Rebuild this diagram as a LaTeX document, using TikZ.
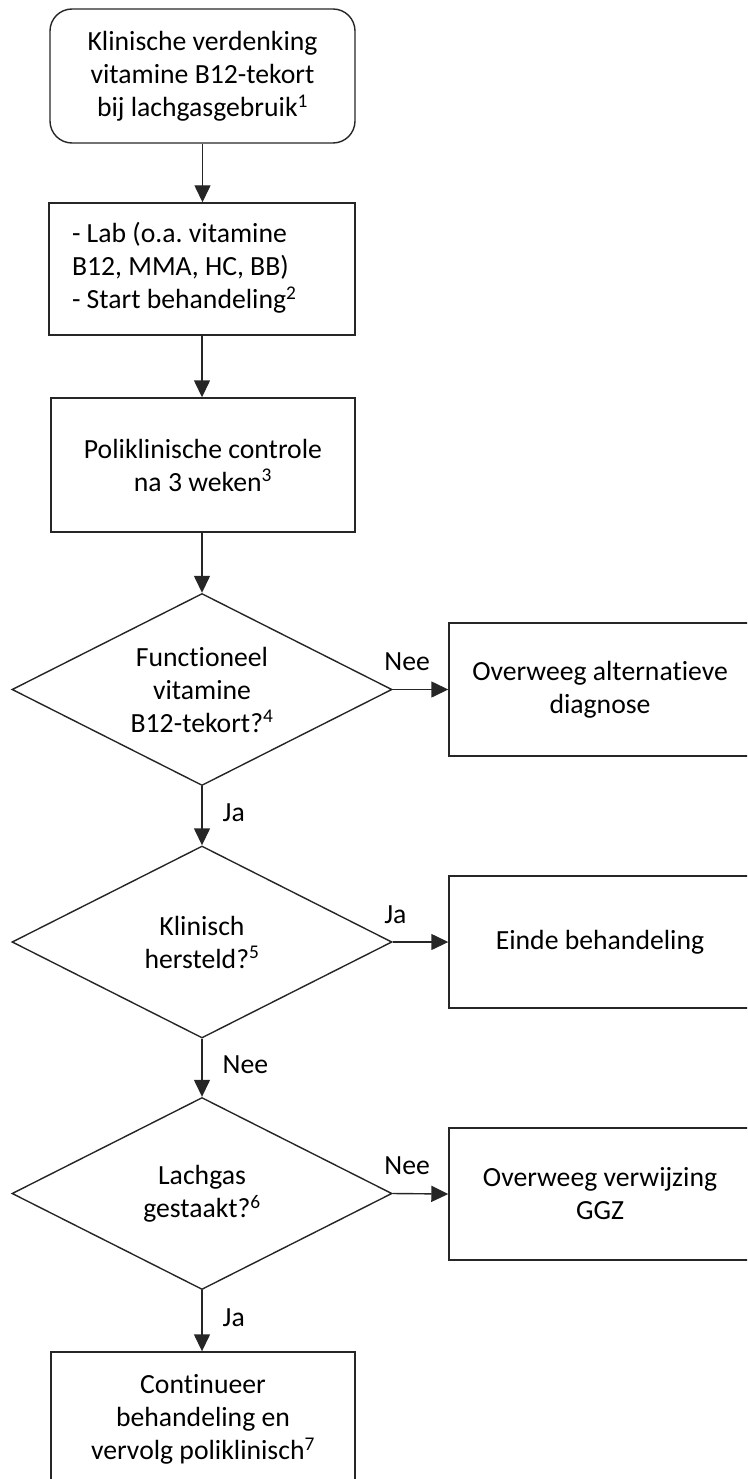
\documentclass[tikz,border=0pt]{standalone}
\usepackage{fontspec}
\setmainfont{Carlito}[Ligatures=NoCommon]
\usetikzlibrary{shapes.geometric,arrows.meta}
\frenchspacing
\begin{document}
\begin{tikzpicture}[x=1pt,y=-1pt,
  every node/.style={font=\fontsize{27.7}{33}\selectfont, text=black},
  box/.style={draw=black!85, line width=1.4pt, rectangle, inner sep=0pt, align=center},
  rbox/.style={box, rounded corners=22pt},
  dec/.style={draw=black!85, line width=1.4pt, diamond, aspect=1.98, inner sep=0pt, align=center, minimum width=380pt, minimum height=192pt},
  conn/.style={draw=black!85, line width=1.4pt, -{Triangle[length=17pt,width=16pt]}},
  vlab/.style={anchor=base west, inner sep=0pt, xshift=20pt, yshift=-5.5pt},
  hlab/.style={anchor=base west, inner sep=0pt, xshift=-9pt, yshift=19pt}
]
\useasboundingbox (0,0) rectangle (747,1479);
\clip (0,0) rectangle (747,1479);

\node[rbox, minimum width=305pt, minimum height=134pt] (b1) at (202.5,76)
  {Klinische verdenking\\vitamine B12-tekort\\bij lachgasgebruik\textsuperscript{1}};
\node[box, minimum width=306pt, minimum height=132pt] (b2) at (202,269)
  {\makebox[260pt][l]{\begin{tabular}{@{}l@{}}- Lab (o.a. vitamine\\B12, MMA, HC, BB)\\- Start behandeling\textsuperscript{2}\end{tabular}}};
\node[box, minimum width=304pt, minimum height=134pt] (b3) at (203,465)
  {Poliklinische controle\\na 3 weken\textsuperscript{3}};
\node[dec] (d1) at (202,689.5) {Functioneel\\vitamine\\B12-tekort?\textsuperscript{4}};
\node[dec] (d2) at (202,942) {Klinisch\\hersteld?\textsuperscript{5}};
\node[dec] (d3) at (202,1193.5) {Lachgas\\gestaakt?\textsuperscript{6}};
\node[box, minimum width=302pt, minimum height=133pt] (rA) at (600,689.5)
  {Overweeg alternatieve\\diagnose};
\node[box, minimum width=302pt, minimum height=132pt] (rB) at (600,942)
  {Einde behandeling};
\node[box, minimum width=302pt, minimum height=132pt] (rC) at (600,1194)
  {Overweeg verwijzing\\GGZ};
\node[box, minimum width=304pt, minimum height=134pt] (b4) at (203,1419)
  {Continueer\\behandeling en\\vervolg poliklinisch\textsuperscript{7}};

\draw[conn] (b1.south) -- (b1.south |- b2.north);
\draw[conn] (b2.south) -- (b2.south |- b3.north);
\draw[conn] (b3.south -| d1.north) -- (d1.north);
\draw[conn] (d1.east) -- node[at start, hlab] (l1) {Nee} (rA.west);
\draw[conn] (d1.south) -- node[midway, vlab] (l2) {Ja} (d2.north);
\draw[conn] (d2.east) -- node[at start, hlab] (l3) {Ja} (rB.west);
\draw[conn] (d2.south) -- node[midway, vlab] (l4) {Nee} (d3.north);
\draw[conn] (d3.east) -- node[at start, hlab] (l5) {Nee} (rC.west);
\draw[conn] (d3.south) -- node[midway, vlab] (l6) {Ja} (d3.south |- b4.north);
\end{tikzpicture}
\end{document}
